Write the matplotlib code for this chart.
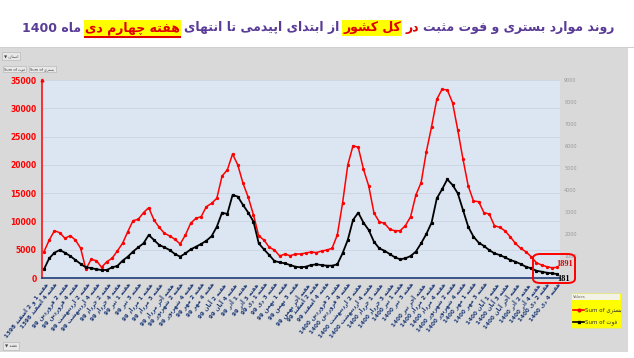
import matplotlib
matplotlib.use("Agg")
import matplotlib.pyplot as plt
from matplotlib.patches import Rectangle, FancyBboxPatch
from matplotlib.lines import Line2D

W, H = 634, 358

# weekly totals, week 1-2 of Esfand 1398 .. week 4 of Dey 1400
hospitalized = [
    4650, 6720, 8360, 8010, 7020, 7480, 6720, 5250, 1540, 3300,
    3060, 1890, 2880, 3480, 4770, 6130, 8190, 10130, 10380, 11550,
    12430, 10250, 8960, 7900, 7430, 6840, 6010, 7600, 9670, 10550,
    10840, 12600, 13200,
    14090, 18030, 19090, 21920, 19980, 16740, 14270, 11140, 7430, 6720,
    5430, 4950, 3890, 4240, 3940, 4240, 4240, 4420, 4600, 4480,
    4770, 4950, 5250, 7600, 13200, 19980, 23390, 23100, 19210, 16270,
    11500,
    9950, 9670, 8610, 8360, 8360, 9250, 10840, 14670, 16850, 22330,
    26750, 31590, 33360, 33240, 31000, 26170, 20990, 16270, 13610, 13490,
    11550, 11320, 9250, 8960, 8360, 7300, 6130, 5250, 4650, 3770,
    2710, 2300, 2000, 1820, 1891]

deaths = [
    400, 895, 1150, 1270, 1150, 1000, 820, 640, 485, 455,
    395, 364, 364, 485, 545, 786, 970, 1200, 1395, 1575,
    1955, 1727, 1500, 1395, 1270, 1090, 970, 1120, 1300, 1420,
    1545, 1695, 1900,
    2330, 2970, 2910, 3770, 3700, 3320, 2970, 2560, 1575, 1300,
    1045, 773, 712, 667, 590, 515, 485, 515, 590, 620,
    590, 560, 560, 620, 1120, 1727, 2636, 2970, 2515, 2180,
    1650,
    1350, 1240, 1090, 940, 850, 895, 1000, 1200, 1575, 2000,
    2515, 3620, 4030, 4485, 4230, 3850, 3090, 2330, 1880, 1605,
    1455, 1270, 1120, 1045, 940, 820, 740, 636, 515, 440,
    332, 286, 240, 212, 181]

weeks_1398 = ["هفته 1 و 2 اسفند 1398", "هفته 3 اسفند 1398", "هفته 4 اسفند 1398"]
months_1399 = [("فروردین", 4), ("اردیبهشت", 4), ("خرداد", 5), ("تیر", 4),
               ("مرداد", 5), ("شهریور", 4), ("مهر", 4), ("آبان", 5),
               ("آذر", 4), ("دی", 4), ("بهمن", 5), ("اسفند", 4)]
months_1400 = [("فروردین", 4), ("اردیبهشت", 5), ("خرداد", 4), ("تیر", 5),
               ("مرداد", 4), ("شهریور", 5), ("مهر", 4), ("آبان", 5),
               ("آذر", 4), ("دی", 4)]

title_parts = [
    ("روند موارد بستری و فوت مثبت", "#5a3c96", None, False),
    ("در", "#e00000", None, False),
    ("کل کشور", "#e00000", "#ffff00", False),
    ("از ابتدای اپیدمی تا انتهای", "#5a3c96", None, False),
    ("هفته چهارم دی", "#e00000", "#ffff00", True),
    ("ماه 1400", "#5a3c96", None, False),
]

# --- minimal arabic/persian shaping (matplotlib has no bidi/shaping) ---
FORMS = {
    "ا": ("\uFE8D", "\uFE8E", None, None), "آ": ("\uFE81", "\uFE82", None, None),
    "ب": ("\uFE8F", "\uFE90", "\uFE91", "\uFE92"), "پ": ("\uFB56", "\uFB57", "\uFB58", "\uFB59"),
    "ت": ("\uFE95", "\uFE96", "\uFE97", "\uFE98"), "ث": ("\uFE99", "\uFE9A", "\uFE9B", "\uFE9C"),
    "ج": ("\uFE9D", "\uFE9E", "\uFE9F", "\uFEA0"), "چ": ("\uFB7A", "\uFB7B", "\uFB7C", "\uFB7D"),
    "ح": ("\uFEA1", "\uFEA2", "\uFEA3", "\uFEA4"), "خ": ("\uFEA5", "\uFEA6", "\uFEA7", "\uFEA8"),
    "د": ("\uFEA9", "\uFEAA", None, None), "ذ": ("\uFEAB", "\uFEAC", None, None),
    "ر": ("\uFEAD", "\uFEAE", None, None), "ز": ("\uFEAF", "\uFEB0", None, None),
    "ژ": ("\uFB8A", "\uFB8B", None, None),
    "س": ("\uFEB1", "\uFEB2", "\uFEB3", "\uFEB4"), "ش": ("\uFEB5", "\uFEB6", "\uFEB7", "\uFEB8"),
    "ع": ("\uFEC9", "\uFECA", "\uFECB", "\uFECC"), "ف": ("\uFED1", "\uFED2", "\uFED3", "\uFED4"),
    "ق": ("\uFED5", "\uFED6", "\uFED7", "\uFED8"), "ک": ("\uFB8E", "\uFB8F", "\uFB90", "\uFB91"),
    "گ": ("\uFB92", "\uFB93", "\uFB94", "\uFB95"), "ل": ("\uFEDD", "\uFEDE", "\uFEDF", "\uFEE0"),
    "م": ("\uFEE1", "\uFEE2", "\uFEE3", "\uFEE4"), "ن": ("\uFEE5", "\uFEE6", "\uFEE7", "\uFEE8"),
    "و": ("\uFEED", "\uFEEE", None, None), "ه": ("\uFEE9", "\uFEEA", "\uFEEB", "\uFEEC"),
    "ی": ("\uFBFC", "\uFBFD", "\uFBFE", "\uFBFF"),
}


def shape_word(word):
    out = []
    for i, ch in enumerate(word):
        if ch not in FORMS:
            out.append(ch)
            continue
        prev = word[i - 1] if i > 0 else ""
        nxt = word[i + 1] if i + 1 < len(word) else ""
        join_prev = prev in FORMS and FORMS[prev][2] is not None
        join_next = FORMS[ch][2] is not None and nxt in FORMS
        iso, fin, ini, med = FORMS[ch]
        if join_prev and join_next:
            out.append(med)
        elif join_prev:
            out.append(fin)
        elif join_next:
            out.append(ini)
        else:
            out.append(iso)
    return "".join(reversed(out))


def rtl(text):
    words = text.split(" ")
    return " ".join(w if w.isdigit() else shape_word(w) for w in reversed(words))


week_labels = list(weeks_1398)
for year, months in (("99", months_1399), ("1400", months_1400)):
    for month, n in months:
        for w in ["1", "2", "3", "4", "آخر"][:n]:
            week_labels.append(f"هفته {w} {month} {year}")

plt.rcParams["font.family"] = ["DejaVu Sans"]

fig = plt.figure(figsize=(W / 100, H / 100), dpi=100)
fig.patch.set_facecolor("white")
fig.add_artist(Rectangle((0, 1 - 352 / H), 628 / W, 304 / H, transform=fig.transFigure,
                         facecolor="#d9d9d9", edgecolor="none", zorder=0))

ax = fig.add_axes([42 / W, 1 - 278 / H, 518 / W, 198 / H])
ax.set_facecolor("#dce6f2")
x = list(range(len(hospitalized)))
ax.plot(x, hospitalized, color="#ff0000", lw=1.1, marker="o", ms=1.4, zorder=3)
ax.set_ylim(0, 35000)
ax.set_xlim(-0.38, 98.52)
ax.set_yticks(range(0, 35001, 5000))
ax.grid(axis="y", color="#cbd5e2", lw=0.6)
ax.set_axisbelow(True)
for s in ("top", "right"):
    ax.spines[s].set_visible(False)
ax.spines["left"].set_color("#ff0000")
ax.spines["left"].set_linewidth(1.1)
ax.spines["bottom"].set_color("#1f3c78")
ax.spines["bottom"].set_linewidth(1.2)
ax.plot([0], [1], marker="^", color="#ff0000", ms=2, transform=ax.transAxes, clip_on=False)
ax.tick_params(axis="y", colors="#ff0000", labelsize=5.5, length=0, pad=4)
for lb in ax.get_yticklabels():
    lb.set_fontweight("bold")

ax.set_xticks(x[::2])
ax.set_xticklabels([rtl(s) for s in week_labels[::2]], rotation=52, ha="right", va="top",
                   rotation_mode="anchor", fontsize=4.1, color="#1f3c78", fontweight="bold")
ax.tick_params(axis="x", length=0, pad=2.5)

ax2 = ax.twinx()
ax2.plot(x, deaths, color="black", lw=1.3, marker="s", ms=1.3, zorder=3)
ax2.set_ylim(0, 9000)
ax2.set_yticks(range(1000, 9001, 1000))
ax2.tick_params(axis="y", colors="#9a9a9a", labelsize=3.5, length=0, pad=3)
for s in ax2.spines.values():
    s.set_visible(False)

# highlight box on the last weeks
fig.add_artist(FancyBboxPatch((533 / W, 1 - 283 / H), 42 / W, 29 / H,
                              boxstyle="round,pad=0,rounding_size=0.012",
                              transform=fig.transFigure, facecolor="none",
                              edgecolor="#ff0000", lw=1.4, zorder=5))
fig.text(565 / W, 1 - 264 / H, str(hospitalized[-1]), color="#e00000", fontsize=6,
         fontweight="bold", family="Liberation Serif", ha="center", va="center")
fig.text(564 / W, 1 - 279 / H, str(deaths[-1]), color="black", fontsize=6,
         fontweight="bold", family="Liberation Serif", ha="center", va="center")

# legend
fig.add_artist(Rectangle((571 / W, 1 - 328 / H), 50 / W, 35 / H, transform=fig.transFigure,
                         facecolor="#ffff00", edgecolor="#e0e0a0", lw=0.5))
fig.add_artist(Rectangle((572 / W, 1 - 300 / H), 48 / W, 6 / H, transform=fig.transFigure,
                         facecolor="#f2f2e6", edgecolor="none"))
fig.text(573 / W, 1 - 297 / H, "Values", fontsize=2.8, color="#666666", va="center")
for yy, col, mk, name in ((310, "#ff0000", "o", "بستری"), (322, "black", "s", "فوت")):
    fig.add_artist(Line2D([573 / W, 584 / W], [1 - yy / H] * 2, color=col, lw=1.2,
                          transform=fig.transFigure))
    fig.add_artist(Line2D([578.5 / W], [1 - yy / H], color=col, marker=mk, ms=2,
                          transform=fig.transFigure))
    fig.text(585 / W, 1 - yy / H, "Sum of " + rtl(name), fontsize=4, color="#333333", va="center")

# pivot field buttons
fig.text(4 / W, 1 - 56 / H, "\u25BC " + rtl("استان"), fontsize=3, color="#444444", va="center",
         bbox=dict(facecolor="#e8e8e8", edgecolor="#b0b0b0", lw=0.4, pad=1.2))
fig.text(4 / W, 1 - 69 / H, "Sum of " + rtl("فوت"), fontsize=2.6, color="#444444", va="center",
         bbox=dict(facecolor="#e8e8e8", edgecolor="#b0b0b0", lw=0.4, pad=1.0))
fig.text(30 / W, 1 - 69 / H, "Sum of " + rtl("بستری"), fontsize=2.6, color="#444444", va="center",
         bbox=dict(facecolor="#e8e8e8", edgecolor="#b0b0b0", lw=0.4, pad=1.0))
fig.text(5 / W, 1 - 346 / H, "\u25BC " + rtl("هفته"), fontsize=3, color="#444444", va="center",
         bbox=dict(facecolor="#e8e8e8", edgecolor="#b0b0b0", lw=0.4, pad=1.2))

# title, laid out right to left in coloured pieces
fig.canvas.draw()
renderer = fig.canvas.get_renderer()
probe = fig.text(0, 0, rtl(" ".join(p[0] for p in title_parts)), fontsize=10, fontweight="bold")
title_size = 10 * 596 / probe.get_window_extent(renderer).width
probe.remove()
gap = title_size * 0.45
xr = 614
for text, color, bg, under in title_parts:
    t = fig.text(xr / W, 1 - 28 / H, rtl(text), ha="right", va="center", color=color,
                 fontsize=title_size, fontweight="bold")
    if bg:
        t.set_bbox(dict(facecolor=bg, edgecolor="none", pad=0.8))
    bb = t.get_window_extent(renderer)
    if under:
        fig.add_artist(Line2D([bb.x0 / W, bb.x1 / W], [(bb.y0 - 2) / H] * 2, color="#e00000",
                              lw=1.5, transform=fig.transFigure))
    xr = bb.x0 - gap

fig.add_artist(Line2D([0, 1], [1 - 47 / H] * 2, color="#c8c8c8", lw=0.6, transform=fig.transFigure))

fig.savefig("out.png", dpi=100)
